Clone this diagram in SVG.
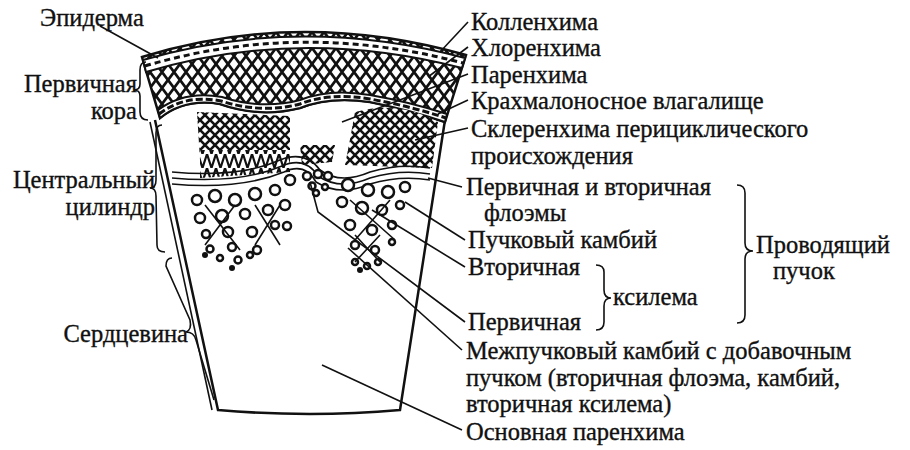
<svg xmlns="http://www.w3.org/2000/svg" width="910" height="450" viewBox="0 0 910 450">
<style>
text{font-family:"Liberation Serif","DejaVu Serif",serif;font-size:24.5px;fill:#111;stroke:#111;stroke-width:0.35}
.r{text-anchor:end}
.l{stroke:#111;stroke-width:1.6;fill:none}
.o{stroke:#111;stroke-width:2.5;fill:none}
.c{stroke:#111;stroke-width:2.5;fill:#fff}
</style>
<defs>
<pattern id="hx" width="12" height="16" patternUnits="userSpaceOnUse">
<rect width="12" height="16" fill="#fff"/>
<path d="M0 0L12 16M12 0L0 16" stroke="#111" stroke-width="2.8"/>
</pattern>
<pattern id="hs" width="10" height="10" patternUnits="userSpaceOnUse">
<rect width="10" height="10" fill="#fff"/>
<path d="M0 0L10 10M10 0L0 10" stroke="#111" stroke-width="2.6"/>
</pattern>
<pattern id="zz" width="9" height="14" patternUnits="userSpaceOnUse">
<rect width="9" height="14" fill="#fff"/>
<path d="M0 0L4.5 14L9 0" stroke="#111" stroke-width="2.2" fill="none"/>
</pattern>
</defs>
<g id="stem">
<path class="o" d="M155 120 L218 410 Q310 418 400 410 L445 120" fill="#fff"/>
<path class="l" d="M150 122 L212 410"/>
<path d="M142 57 Q300 8 466 55 L445 122 Q410 110 370 102 Q330 96 300 108 Q260 118 220 104 Q185 98 160 118 Z" fill="url(#hx)" stroke="#111" stroke-width="2.5"/>
<path d="M143 60 Q300 14 465 58 L462 68 Q300 26 146 72 Z" fill="#fff" stroke="#111" stroke-width="2"/>
<path d="M145 66 Q300 20 463 63" stroke="#111" stroke-width="3" stroke-dasharray="6 4" fill="none"/>
<path d="M158 110 Q185 90 222 97 Q262 110 300 100 Q330 88 370 95 Q410 102 447 114 L445 122 Q410 110 370 102 Q330 96 300 108 Q260 118 220 104 Q185 98 160 118 Z" fill="#fff" stroke="#111" stroke-width="2"/>
<path d="M159 114 Q185 94 221 101 Q262 114 300 104 Q330 92 370 99 Q410 106 446 118" stroke="#111" stroke-width="3" stroke-dasharray="7 3" fill="none"/>
<path d="M197 112 L290 116 L290 160 L200 160 Z" fill="url(#hs)"/>
<path d="M200 150 L290 150 L290 172 L200 178 Z" fill="url(#zz)"/>
<path d="M355 112 Q400 100 438 122 L432 168 L345 165 Q350 140 355 112 Z" fill="url(#hs)"/>
<path d="M300 145 L335 145 L332 162 L302 165 Z" fill="url(#hs)"/>
<path class="l" stroke-width="2" d="M172 172 Q240 178 280 160 Q305 150 320 170 Q340 185 370 172 Q400 163 430 168"/>
<path class="l" stroke-width="2" d="M172 178 Q240 184 282 166 Q305 156 318 176 Q340 191 370 178 Q400 169 430 174"/>
<path class="l" stroke-width="2" d="M172 184 Q240 190 284 172 Q305 162 316 182 Q340 197 370 184 Q400 175 430 180"/>
<g class="c">
<circle cx="197" cy="200" r="5"/><circle cx="215" cy="196" r="6"/><circle cx="235" cy="200" r="6"/><circle cx="255" cy="194" r="6"/><circle cx="275" cy="190" r="5"/><circle cx="290" cy="180" r="5"/>
<circle cx="200" cy="218" r="5"/><circle cx="222" cy="216" r="6"/><circle cx="245" cy="214" r="5"/><circle cx="268" cy="210" r="5"/><circle cx="285" cy="205" r="5"/>
<circle cx="206" cy="234" r="4"/><circle cx="228" cy="232" r="5"/><circle cx="252" cy="232" r="5"/><circle cx="275" cy="225" r="4"/><circle cx="287" cy="226" r="4"/>
<circle cx="210" cy="249" r="3.5"/><circle cx="232" cy="247" r="4"/><circle cx="257" cy="250" r="4"/>
<circle cx="220" cy="258" r="3"/><circle cx="238" cy="260" r="3.5"/><circle cx="250" cy="255" r="3"/>
<circle cx="307" cy="176" r="4"/><circle cx="318" cy="174" r="4"/><circle cx="328" cy="176" r="4"/><circle cx="312" cy="186" r="3.5"/><circle cx="325" cy="187" r="3"/><circle cx="316" cy="193" r="3"/>
<circle cx="348" cy="185" r="6"/><circle cx="368" cy="190" r="6"/><circle cx="388" cy="192" r="6"/><circle cx="405" cy="187" r="5"/>
<circle cx="342" cy="202" r="5"/><circle cx="362" cy="208" r="6"/><circle cx="382" cy="210" r="5"/><circle cx="400" cy="205" r="4"/>
<circle cx="350" cy="225" r="5"/><circle cx="372" cy="230" r="5"/><circle cx="392" cy="225" r="4"/>
<circle cx="355" cy="245" r="4"/><circle cx="375" cy="250" r="4"/><circle cx="392" cy="242" r="3"/>
<circle cx="355" cy="262" r="3"/><circle cx="367" cy="266" r="3"/><circle cx="378" cy="262" r="3"/>
</g>
<path class="l" stroke-width="2" d="M205 205L240 250M235 205L205 245M255 205L280 245M280 205L255 245M350 200L395 240M390 200L355 240M355 235L380 262M380 235L355 262"/>
<circle cx="205" cy="255" r="3" fill="#111"/><circle cx="232" cy="268" r="3" fill="#111"/><circle cx="360" cy="270" r="3" fill="#111"/>
</g>
<g id="braces" class="l">
<path d="M146 62 Q140 62 140 70 L140 84 Q140 90 134 90 Q140 90 140 96 L140 112 Q140 120 148 120"/>
<path d="M162 125 Q156 125 156 133 L156 180 Q156 188 150 188 Q156 188 156 196 L157 245 Q157 252 165 252"/>
<path d="M172 258 Q166 258 166 266 L190 320 Q192 330 186 332 Q194 332 196 340 L214 400"/>
<path d="M737 185 Q745 185 745 193 L745 243 Q745 251 753 251 Q745 251 745 259 L745 315 Q745 323 737 323"/>
<path d="M596 265 Q604 265 604 272 L604 290 Q604 298 611 298 Q604 298 604 306 L604 322 Q604 330 596 330"/>
</g>
<g id="connectors" class="l">
<path d="M100 26 L158 58"/>
<path d="M468 22 L440 52"/>
<path d="M468 47 L428 77"/>
<path d="M468 74 L342 122"/>
<path d="M468 100 L438 114"/>
<path d="M468 128 L415 140"/>
<path d="M462 187 L428 178"/>
<path d="M465 240 L405 202"/>
<path d="M465 267 L372 210"/>
<path d="M465 322 L318 212 L310 182"/>
<path d="M462 350 L348 248"/>
<path d="M462 430 L322 365"/>
</g>
<g id="labels">
<text x="40" y="26">Эпидерма</text>
<text class="r" x="137" y="92">Первичная</text>
<text class="r" x="137" y="119">кора</text>
<text class="r" x="155" y="188">Центральный</text>
<text class="r" x="155" y="215">цилиндр</text>
<text class="r" x="188" y="342">Сердцевина</text>
<text x="471" y="30">Колленхима</text>
<text x="471" y="56">Хлоренхима</text>
<text x="471" y="83">Паренхима</text>
<text x="471" y="109">Крахмалоносное влагалище</text>
<text x="471" y="137">Склеренхима перициклического</text>
<text x="471" y="164">происхождения</text>
<text x="466" y="195">Первичная и вторичная</text>
<text x="484" y="221">флоэмы</text>
<text x="468" y="248">Пучковый камбий</text>
<text x="468" y="275">Вторичная</text>
<text x="613" y="305">ксилема</text>
<text x="468" y="330">Первичная</text>
<text x="756" y="253">Проводящий</text>
<text x="773" y="279">пучок</text>
<text x="466" y="359">Межпучковый камбий с добавочным</text>
<text x="466" y="386">пучком (вторичная флоэма, камбий,</text>
<text x="466" y="412">вторичная ксилема)</text>
<text x="466" y="440">Основная паренхима</text>
</g>
</svg>
